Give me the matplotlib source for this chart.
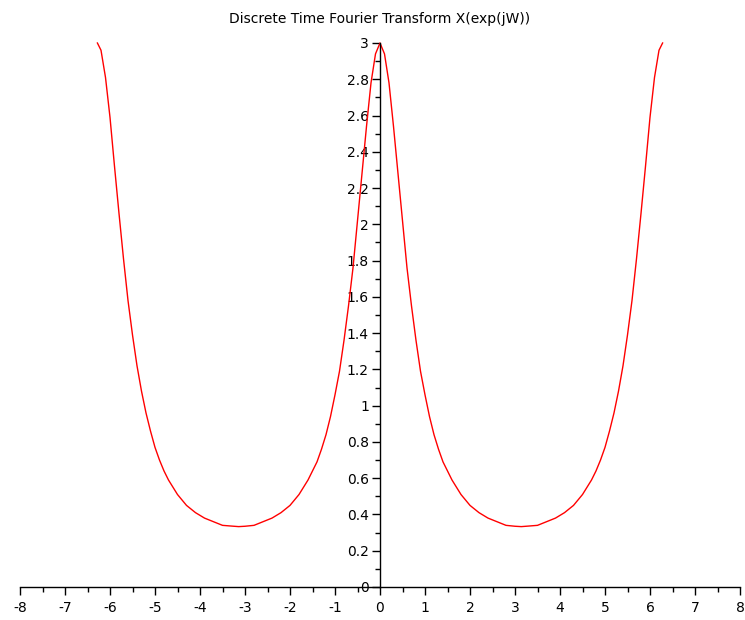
import matplotlib
matplotlib.use("Agg")
import matplotlib.pyplot as plt
from matplotlib.ticker import MultipleLocator

# Positive-frequency half of the curve
w_pos = [0.0, 0.1, 0.2, 0.3, 0.4, 0.5, 0.6, 0.7, 0.8, 0.9, 1.0, 1.1, 1.2, 1.3, 1.4, 1.5,
         1.6, 1.7, 1.8, 1.9, 2.0, 2.2, 2.4, 2.6, 2.8, 3.0, 3.14, 3.3, 3.5, 3.7, 3.9, 4.1, 4.3,
         4.4, 4.5, 4.6, 4.7, 4.8, 4.9, 5.0, 5.1, 5.2, 5.3, 5.4, 5.5, 5.6, 5.7, 5.8, 5.9, 6.0, 6.1,
         6.2, 6.28]
x_pos = [3.00, 2.94, 2.78, 2.54, 2.28, 2.02, 1.76, 1.55, 1.36, 1.19, 1.06, 0.94, 0.84, 0.76, 0.69, 0.64,
         0.59, 0.55, 0.51, 0.48, 0.45, 0.41, 0.38, 0.36, 0.34, 0.335, 0.333, 0.336, 0.34, 0.36, 0.38, 0.41, 0.45,
         0.48, 0.51, 0.55, 0.59, 0.64, 0.70, 0.77, 0.86, 0.96, 1.08, 1.22, 1.39, 1.58, 1.81, 2.06, 2.32, 2.59, 2.81,
         2.96, 3.00]
# Negative-frequency half
w_neg = [-6.28, -6.2, -6.1, -6.0, -5.9, -5.8, -5.7, -5.6, -5.5, -5.4, -5.3, -5.2, -5.1, -5.0,
         -4.9, -4.8, -4.7, -4.6, -4.5, -4.4, -4.3, -4.1, -3.9, -3.7, -3.5, -3.3, -3.14, -3.0, -2.8, -2.6, -2.4,
         -2.2, -2.0, -1.9, -1.8, -1.7, -1.6, -1.5, -1.4, -1.3, -1.2, -1.1, -1.0, -0.9, -0.8, -0.7, -0.6, -0.5,
         -0.4, -0.3, -0.2, -0.1]
x_neg = [3.00, 2.96, 2.81, 2.59, 2.32, 2.06, 1.81, 1.58, 1.39, 1.22, 1.08, 0.96, 0.86, 0.77,
         0.70, 0.64, 0.59, 0.55, 0.51, 0.48, 0.45, 0.41, 0.38, 0.36, 0.34, 0.336, 0.333, 0.335, 0.34, 0.36, 0.38,
         0.41, 0.45, 0.48, 0.51, 0.55, 0.59, 0.64, 0.69, 0.76, 0.84, 0.94, 1.06, 1.19, 1.36, 1.55, 1.76, 2.02,
         2.28, 2.54, 2.78, 2.94]

w = w_neg + w_pos
X = x_neg + x_pos

fig = plt.figure(figsize=(7.45, 6.2), dpi=100)
ax = fig.add_axes([20/745, 1-587/620, 720/745, 544/620])
ax.plot(w, X, color="red", linewidth=1.0, clip_on=False)

ax.set_xlim(-8, 8)
ax.set_ylim(0, 3)
ax.spines["top"].set_visible(False)
ax.spines["right"].set_visible(False)
ax.spines["left"].set_position(("data", 0))
ax.spines["bottom"].set_position(("data", 0))
for s in ("left", "bottom"):
    ax.spines[s].set_linewidth(1.0)

ax.xaxis.set_major_locator(MultipleLocator(1))
ax.xaxis.set_minor_locator(MultipleLocator(0.5))
ax.yaxis.set_major_locator(MultipleLocator(0.2))
ax.yaxis.set_minor_locator(MultipleLocator(0.1))
ax.yaxis.set_major_formatter(plt.FuncFormatter(lambda v, p: ("%g" % round(v, 1))))
ax.xaxis.set_major_formatter(plt.FuncFormatter(lambda v, p: ("%g" % round(v, 1))))

ax.tick_params(axis="both", which="major", direction="out", length=6, width=1,
               labelsize=10, colors="black")
ax.tick_params(axis="x", which="major", pad=4)
ax.tick_params(axis="y", which="major", pad=2)
ax.tick_params(axis="both", which="minor", direction="out", length=3.5, width=1)

ax.set_title("Discrete Time Fourier Transform X(exp(jW))", fontsize=10, pad=14.5)

fig.savefig("out.png", dpi=100)
